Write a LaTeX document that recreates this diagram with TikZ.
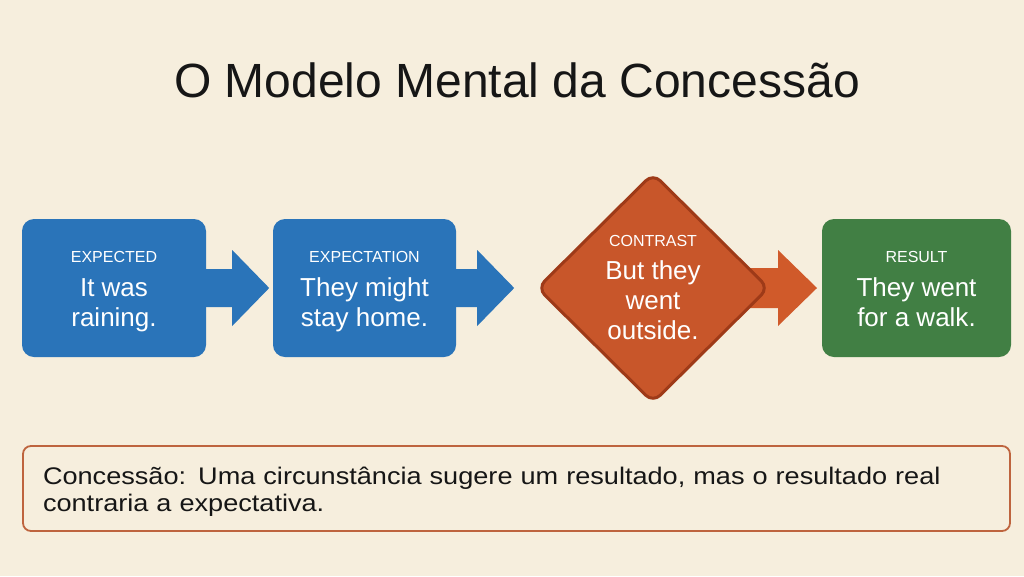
\documentclass[tikz,border=0pt]{standalone}
\usepackage{fontspec}
\setmainfont{Liberation Sans}
\newfontfamily\notefont[FakeStretch=1.13]{Liberation Sans}
\usetikzlibrary{shapes.geometric,calc}
\definecolor{bgc}{RGB}{246,238,221}
\definecolor{blueC}{RGB}{42,116,185}
\definecolor{orangeC}{RGB}{200,86,42}
\definecolor{orangeD}{RGB}{158,58,24}
\definecolor{orangeA}{RGB}{208,90,42}
\definecolor{greenC}{RGB}{65,127,68}
\definecolor{noteB}{RGB}{190,100,62}
\definecolor{inkC}{RGB}{22,22,22}
\newcommand{\lbl}[1]{{\fontsize{16}{19}\selectfont #1}}
\newcommand{\topstrut}{\rule{0pt}{18pt}}
\newcommand{\lastdepth}{\rule[-6pt]{0pt}{6pt}}
\tikzset{
  stepbox/.style={rectangle, rounded corners=12pt, minimum width=184pt, minimum height=138pt,
    inner sep=0pt, text=white, align=center, font=\fontsize{26}{30}\selectfont},
  contrastbox/.style={diamond, aspect=1, minimum width=232pt, minimum height=230pt, inner sep=0pt,
    rounded corners=10pt, fill=orangeC, draw=orangeD, line width=3pt, text=white, align=center,
    font=\fontsize{26}{30}\selectfont},
  notebox/.style={rectangle, rounded corners=8pt, draw=noteB, line width=1.8pt, fill=bgc,
    minimum width=987pt, minimum height=85pt, inner sep=0pt, text width=947pt, align=left,
    text=inkC, font=\notefont\fontsize{24}{27.5}\selectfont},
}
\begin{document}
\begin{tikzpicture}[x=1pt,y=-1pt]
\fill[bgc] (0,0) rectangle (1024,576);
\useasboundingbox (0,0) rectangle (1024,576);

\node[anchor=base, text=inkC, font=\fontsize{48}{56}\selectfont] (title) at (517,97) {O Modelo Mental da Concessão};

\node[stepbox, fill=blueC] (b1) at (114,288) {\topstrut\lbl{EXPECTED}\\[4pt]It was\\raining.\lastdepth};
\node[stepbox, fill=blueC, minimum width=183pt] (b2) at (364.5,288) {\topstrut\lbl{EXPECTATION}\\[4pt]They might\\stay home.\lastdepth};
\node[stepbox, fill=greenC, minimum width=189pt] (b4) at (916.5,288) {\topstrut\lbl{RESULT}\\[4pt]They went\\for a walk.\lastdepth};

% block arrows
\fill[blueC] (b1.east) ++(0,-19) -- ++(26,0) -- ++(0,-19) -- ++(37,38) -- ++(-37,38) -- ++(0,-19) -- ++(-26,0) -- cycle;
\fill[blueC] (b2.east) ++(0,-19) -- ++(21,0) -- ++(0,-19) -- ++(37,38) -- ++(-37,38) -- ++(0,-19) -- ++(-21,0) -- cycle;

\coordinate (a3) at (738,288);
\fill[orangeA] (a3) ++(0,-20) -- ++(40,0) -- ++(0,-18) -- ++(39,38) -- ++(-39,38) -- ++(0,-18) -- ++(-40,0) -- cycle;

\node[contrastbox] (d) at (653,288) {\lbl{CONTRAST}\\[3pt]But they\\went\\outside.};

\node[notebox] (note) at (516.5,488.5) {\rule{0pt}{23.5pt}Concessão: Uma circunstância sugere um resultado, mas o resultado real\\contraria a expectativa.};
\end{tikzpicture}
\end{document}
